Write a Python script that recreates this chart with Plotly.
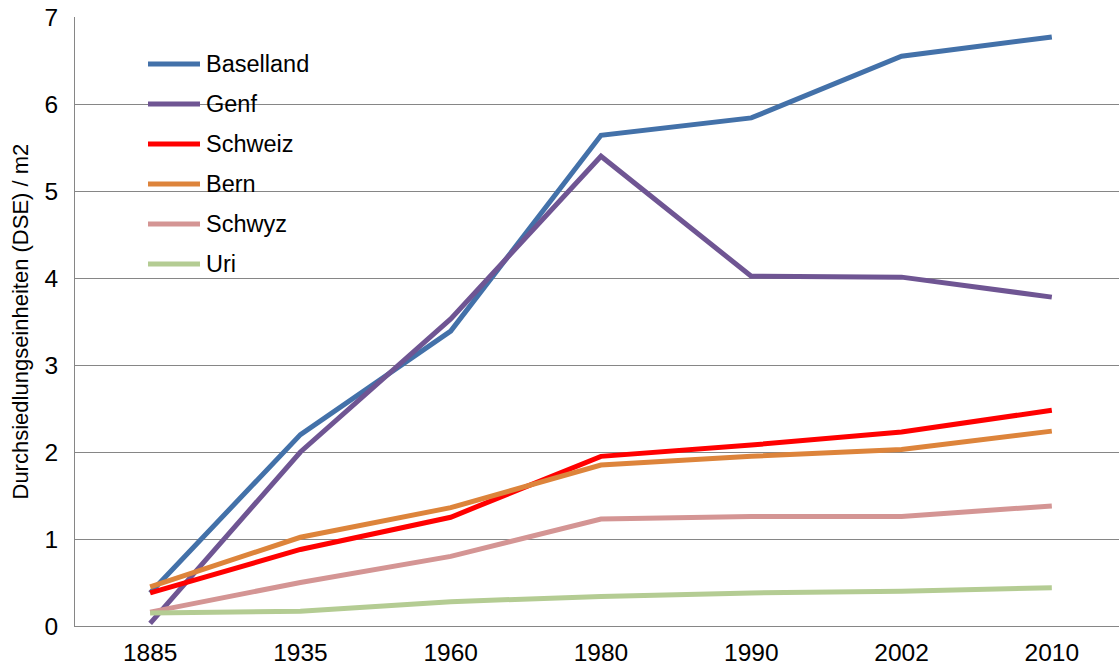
import plotly.graph_objects as go

years = ["1885", "1935", "1960", "1980", "1990", "2002", "2010"]
baselland = [0.38, 2.20, 3.39, 5.64, 5.84, 6.55, 6.77]
genf = [0.03, 2.00, 3.53, 5.40, 4.02, 4.01, 3.78]
schweiz = [0.38, 0.88, 1.25, 1.95, 2.08, 2.23, 2.48]
bern = [0.45, 1.02, 1.36, 1.85, 1.95, 2.03, 2.24]
schwyz = [0.16, 0.50, 0.80, 1.23, 1.26, 1.26, 1.38]
uri = [0.15, 0.17, 0.28, 0.34, 0.38, 0.40, 0.44]

names = ["Baselland", "Genf", "Schweiz", "Bern", "Schwyz", "Uri"]
values = [baselland, genf, schweiz, bern, schwyz, uri]
colors = ["#4371A9", "#6F5593", "#FF0000", "#DD843B", "#D49594", "#B4CC93"]

W, H = 1119, 666
ML, MR, MT, MB = 75, 0, 17, 40
PW, PH = W - ML - MR, H - MT - MB


def px(x):
    return (x - ML) / PW


def py(y):
    return (H - MB - y) / PH


fig = go.Figure()
for name, vals, color in zip(names, values, colors):
    fig.add_trace(go.Scatter(
        x=years, y=vals, name=name, mode="lines",
        line=dict(color=color, width=5), showlegend=False,
    ))

fam = "Liberation Sans, Arial, sans-serif"
tickfont = dict(family=fam, size=24.5, color="#000000")
legfont = dict(family=fam, size=23.5, color="#000000")
titlefont = dict(family=fam, size=22, color="#000000")

shapes = [dict(type="rect", xref="paper", yref="paper",
               x0=px(108), x1=px(349), y0=py(300), y1=py(30),
               fillcolor="white", line=dict(width=0), layer="between")]
annotations = [dict(
    text="Durchsiedlungseinheiten (DSE) / m2", textangle=-90,
    xref="paper", yref="paper", x=0, y=0.5, xanchor="center", yanchor="middle",
    xshift=-55, showarrow=False, font=titlefont,
)]
for i, (name, color) in enumerate(zip(names, colors)):
    row = 64 + 40 * i
    shapes.append(dict(type="line", xref="paper", yref="paper",
                       x0=px(148), x1=px(200), y0=py(row), y1=py(row),
                       line=dict(color=color, width=5), layer="above"))
    annotations.append(dict(text=name, xref="paper", yref="paper",
                            x=px(204), y=py(row), xanchor="left", yanchor="middle",
                            showarrow=False, font=legfont))

fig.update_layout(
    width=W, height=H,
    margin=dict(l=ML, r=MR, t=MT, b=MB),
    paper_bgcolor="white", plot_bgcolor="white",
    font=tickfont,
    showlegend=False,
    xaxis=dict(
        type="category", range=[-0.5, 6.447], automargin=False,
        showgrid=False, showline=True, linecolor="#868686", linewidth=1,
        ticks="", tickfont=tickfont, zeroline=False, ticklabelstandoff=5,
    ),
    yaxis=dict(
        range=[0, 7], dtick=1, automargin=False,
        showgrid=True, gridcolor="#868686", gridwidth=1,
        showline=True, linecolor="#868686", linewidth=1, ticks="",
        tickfont=tickfont, zeroline=False, ticklabelstandoff=11,
    ),
    shapes=shapes,
    annotations=annotations,
)

fig.write_html("out.html", config={"displayModeBar": False},
               post_script="document.body.style.margin='0';document.body.style.overflow='hidden';")
